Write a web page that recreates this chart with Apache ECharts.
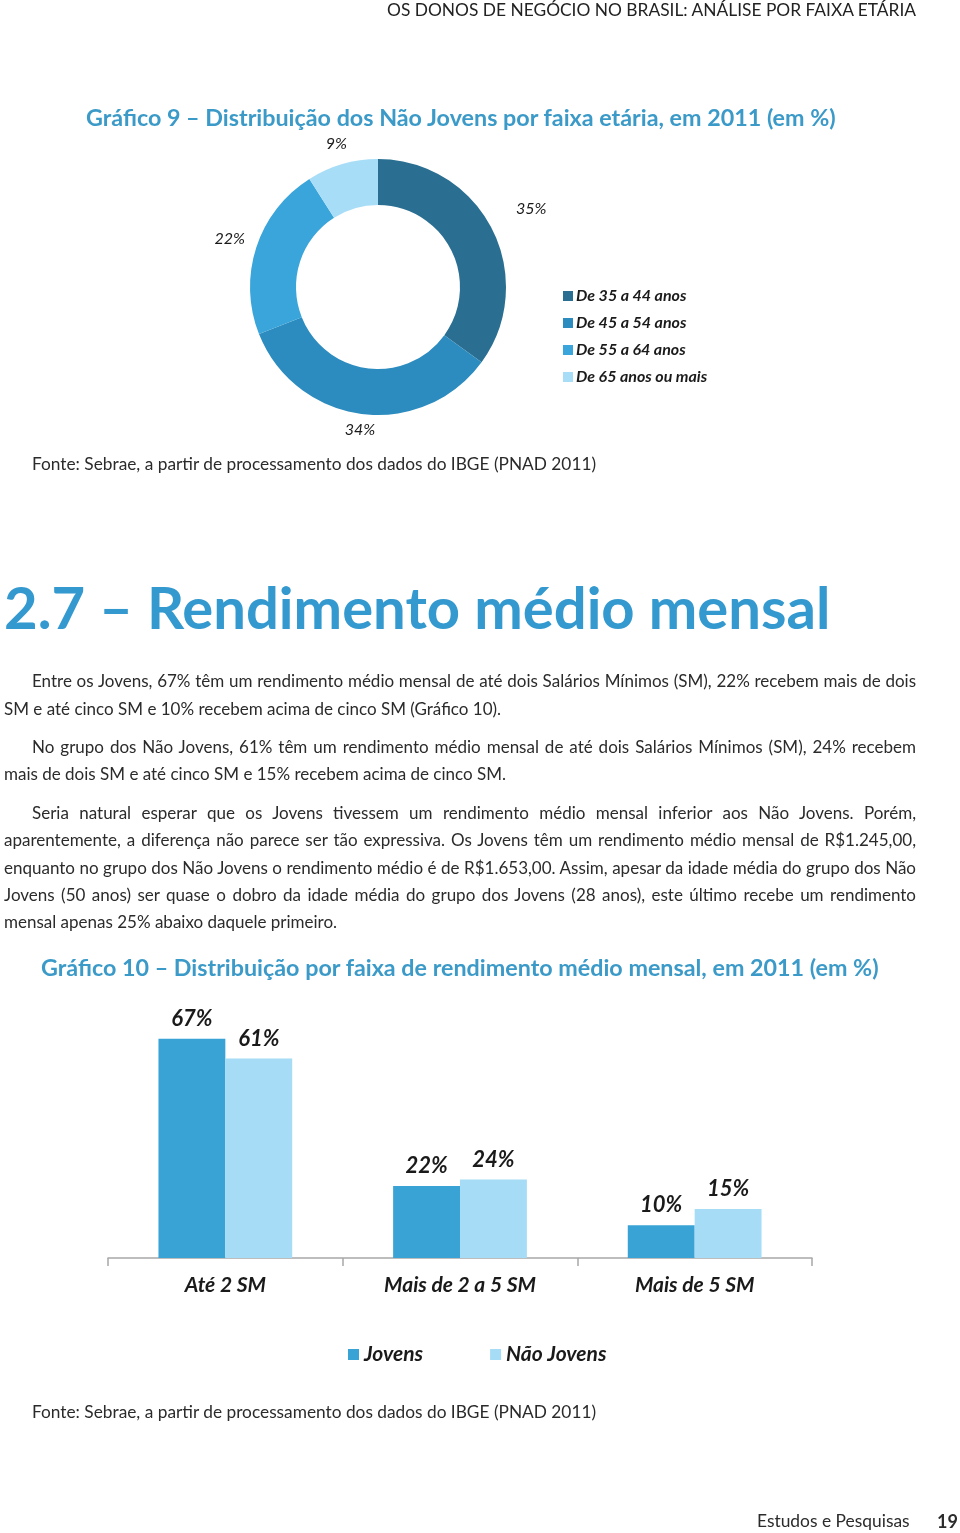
<!DOCTYPE html>
<html lang="pt-BR">
<head>
<meta charset="utf-8">
<title>Os donos de negócio no Brasil</title>
<script src="https://cdn.jsdelivr.net/npm/echarts@6/dist/echarts.min.js"></script>
<style>
  html, body { margin: 0; padding: 0; background: #fff; }
  #page { position: relative; width: 960px; height: 1533px; overflow: hidden; font-family: Lato, "Open Sans", sans-serif; color: #2b2b2b; }
  #chart { position: absolute; left: 0; top: 0; width: 960px; height: 1533px; }
  .t { position: absolute; white-space: nowrap; pointer-events: none; }
  .hdr { right: 44px; top: 0px; font-size: 17.35px; line-height: 20px; color: #222; }
  .gtitle { font-size: 23.3px; line-height: 28px; color: #3b9ac8; font-weight: bold; }
  .fonte { left: 32px; font-size: 17.3px; line-height: 22px; color: #2b2b2b; }
  .h2 { left: 4px; top: 572px; font-size: 58px; line-height: 70px; font-weight: bold; color: #3499cf; }
  .pl { font-size: 17px; line-height: 22px; color: #2b2b2b; }
  .just { text-align: justify; text-align-last: justify; }
  .foot { font-size: 17.4px; line-height: 22px; color: #2b2b2b; }
</style>
</head>
<body>
<div id="page">
  <div id="chart"></div>

  <div class="t hdr">OS DONOS DE NEGÓCIO NO BRASIL: ANÁLISE POR FAIXA ETÁRIA</div>
  <div class="t gtitle" style="left:86px; top:103px;">Gráfico 9 – Distribuição dos Não Jovens por faixa etária, em 2011 (em %)</div>
  <div class="t fonte" style="top:453px;">Fonte: Sebrae, a partir de processamento dos dados do IBGE (PNAD 2011)</div>
  <div class="t h2">2.7 – Rendimento médio mensal</div>

  <div class="t pl just" style="left:32px; width:884px; top:670px;">Entre os Jovens, 67% têm um rendimento médio mensal de até dois Salários Mínimos (SM), 22% recebem mais de dois</div>
  <div class="t pl" style="left:4px; top:698px;">SM e até cinco SM e 10% recebem acima de cinco SM (Gráfico 10).</div>

  <div class="t pl just" style="left:32px; width:884px; top:736px;">No grupo dos Não Jovens, 61% têm um rendimento médio mensal de até dois Salários Mínimos (SM), 24% recebem</div>
  <div class="t pl" style="left:4px; top:763px;">mais de dois SM e até cinco SM e 15% recebem acima de cinco SM.</div>

  <div class="t pl just" style="left:32px; width:884px; top:802px;">Seria natural esperar que os Jovens tivessem um rendimento médio mensal inferior aos Não Jovens. Porém,</div>
  <div class="t pl just" style="left:4px; width:912px; top:829px;">aparentemente, a diferença não parece ser tão expressiva. Os Jovens têm um rendimento médio mensal de R$1.245,00,</div>
  <div class="t pl just" style="left:4px; width:912px; top:857px;">enquanto no grupo dos Não Jovens o rendimento médio é de R$1.653,00. Assim, apesar da idade média do grupo dos Não</div>
  <div class="t pl just" style="left:4px; width:912px; top:884px;">Jovens (50 anos) ser quase o dobro da idade média do grupo dos Jovens (28 anos), este último recebe um rendimento</div>
  <div class="t pl" style="left:4px; top:911px;">mensal apenas 25% abaixo daquele primeiro.</div>

  <div class="t gtitle" style="left:41px; top:953px;">Gráfico 10 – Distribuição por faixa de rendimento médio mensal, em 2011 (em %)</div>
  <div class="t fonte" style="top:1401px;">Fonte: Sebrae, a partir de processamento dos dados do IBGE (PNAD 2011)</div>

  <div class="t foot" style="left:757px; top:1510px;">Estudos e Pesquisas</div>
  <div class="t foot" style="left:937px; top:1510px; font-weight:bold; font-size:18px;">19</div>
</div>

<script>
// ---- Gráfico 9: Não Jovens por faixa etária (%) ----
const ageGroups = ['De 35 a 44 anos', 'De 45 a 54 anos', 'De 55 a 64 anos', 'De 65 anos ou mais'];
const ageShares = [35, 34, 22, 9];
const ageColors = ['#2a6f91', '#2c8cbf', '#3aa5da', '#a8ddf7'];
const ageLabelReach = [44, 16, 28, 21];

// ---- Gráfico 10: faixa de rendimento médio mensal (%) ----
const incomeBands = ['Até 2 SM', 'Mais de 2 a 5 SM', 'Mais de 5 SM'];
const jovens = [67, 22, 10];
const naoJovens = [61, 24, 15];
const barSeriesNames = ['Jovens', 'Não Jovens'];
const barColors = ['#3aa3d6', '#a6dcf6'];

const FONT = 'Lato, "Open Sans", sans-serif';
const chart = echarts.init(document.getElementById('chart'), null, { renderer: 'canvas' });

const pieData = ageGroups.map((name, i) => ({
  name: name,
  value: ageShares[i],
  itemStyle: { color: ageColors[i] },
  labelLine: { show: false, length: ageLabelReach[i], length2: 0 }
}));

const barLabel = { show: true, position: 'top', distance: 9, formatter: '{c}%', fontFamily: FONT, fontSize: 22, fontStyle: 'italic', fontWeight: 'bold', color: '#1a1a1a' };

const option = {
  animation: false,
  backgroundColor: 'transparent',
  textStyle: { fontFamily: FONT },
  legend: [
    {
      data: ageGroups,
      orient: 'vertical',
      left: 558,
      top: 283,
      itemWidth: 10,
      itemHeight: 10,
      itemGap: 11,
      icon: 'rect',
      selectedMode: false,
      textStyle: { fontFamily: FONT, fontSize: 16, fontStyle: 'italic', fontWeight: 'bold', color: '#1a1a1a', padding: [0, 0, 0, -2] }
    },
    {
      data: barSeriesNames,
      orient: 'horizontal',
      left: 343,
      top: 1339,
      itemWidth: 11,
      itemHeight: 11,
      itemGap: 67,
      icon: 'rect',
      selectedMode: false,
      textStyle: { fontFamily: FONT, fontSize: 21, fontStyle: 'italic', fontWeight: 'bold', color: '#1a1a1a' }
    }
  ],
  grid: { left: 108, top: 1029, width: 704, height: 229, containLabel: false },
  xAxis: {
    type: 'category',
    data: incomeBands,
    axisLine: { lineStyle: { color: '#a8a8a8', width: 1.5 } },
    axisTick: { show: true, length: 8, lineStyle: { color: '#a8a8a8', width: 1.5 } },
    axisLabel: { margin: 17, fontFamily: FONT, fontSize: 21, fontStyle: 'italic', fontWeight: 'bold', color: '#1a1a1a' }
  },
  yAxis: { type: 'value', min: 0, max: 70, show: false, splitLine: { show: false } },
  series: [
    {
      type: 'pie',
      name: 'Faixa etária',
      center: [378, 287],
      radius: [82, 128],
      startAngle: 90,
      clockwise: true,
      avoidLabelOverlap: false,
      silent: true,
      data: pieData,
      label: {
        show: true,
        position: 'outside',
        alignTo: 'none',
        distanceToLabelLine: 0,
        formatter: '{c}%',
        fontFamily: FONT,
        fontSize: 16,
        fontStyle: 'italic',
        color: '#1a1a1a'
      },
      labelLine: { show: false },
      labelLayout: function () { return { align: 'center', verticalAlign: 'middle' }; },
      emphasis: { disabled: true }
    },
    {
      type: 'bar',
      name: barSeriesNames[0],
      data: jovens,
      itemStyle: { color: barColors[0] },
      barGap: '0%',
      barCategoryGap: '43%',
      silent: true,
      label: barLabel
    },
    {
      type: 'bar',
      name: barSeriesNames[1],
      data: naoJovens,
      itemStyle: { color: barColors[1] },
      barGap: '0%',
      barCategoryGap: '43%',
      silent: true,
      label: barLabel
    }
  ]
};
chart.setOption(option);
</script>
</body>
</html>
